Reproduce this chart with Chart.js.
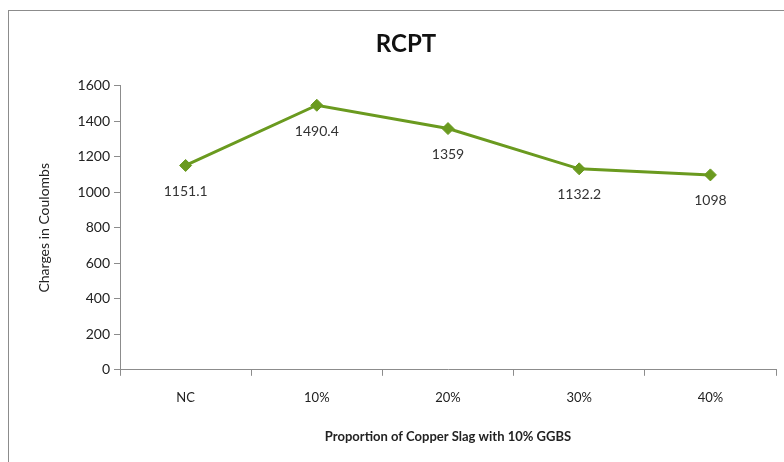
<!DOCTYPE html>
<html>
<head>
<meta charset="utf-8">
<script src="https://cdn.jsdelivr.net/npm/chart.js@4"></script>
<style>
  html, body { margin: 0; padding: 0; background: #fff; }
  #wrap { position: relative; width: 784px; height: 462px; }
</style>
</head>
<body>
<div id="wrap"><canvas id="myChart" width="784" height="462"></canvas></div>
<script>
const categories = ["NC", "10%", "20%", "30%", "40%"];
const rcpt = [1151.1, 1490.4, 1359, 1132.2, 1098];
const valueLabels = ["1151.1", "1490.4", "1359", "1132.2", "1098"];

const FONT = "Lato, 'Open Sans', sans-serif";

// outer frame, like the chart border in the original
const frame = {
  id: "frame",
  beforeDraw(chart) {
    const c = chart.ctx;
    c.save();
    c.fillStyle = "#fff";
    c.fillRect(0, 0, chart.width, chart.height);
    c.strokeStyle = "#8c8c8c";
    c.lineWidth = 1;
    c.strokeRect(8.5, 10.5, 820, 500);
    c.restore();
  },
};

// value labels under each point (no datalabels plugin available offline)
const pointLabels = {
  id: "pointLabels",
  afterDatasetsDraw(chart) {
    const c = chart.ctx;
    const meta = chart.getDatasetMeta(0);
    c.save();
    c.fillStyle = "#333";
    c.font = "14px " + FONT;
    c.textAlign = "center";
    c.textBaseline = "middle";
    meta.data.forEach((pt, i) => {
      c.fillText(valueLabels[i], pt.x, pt.y + 26);
    });
    c.restore();
  },
};

const ctx = document.getElementById("myChart");

new Chart(ctx, {
  type: "line",
  data: {
    labels: categories,
    datasets: [
      {
        label: "RCPT",
        data: rcpt,
        borderColor: "#6a9a1f",
        borderWidth: 3,
        tension: 0,
        pointStyle: "rectRot",
        pointRadius: 6,
        pointBackgroundColor: "#6a9a1f",
        pointBorderColor: "#6a9a1f",
        pointBorderWidth: 1,
      },
    ],
  },
  options: {
    responsive: false,
    animation: false,
    layout: {
      padding: { left: 36, right: 8, top: 0, bottom: 17 },
    },
    scales: {
      y: {
        min: 0,
        max: 1600,
        ticks: {
          stepSize: 200,
          color: "#222",
          font: { size: 14, family: FONT },
          padding: 4,
          callback: (v) => String(v),
        },
        grid: {
          drawOnChartArea: false,
          color: "#8c8c8c",
          tickLength: 6,
        },
        border: { color: "#8c8c8c", width: 1 },
        title: {
          display: true,
          text: "Charges in Coulombs",
          color: "#222",
          font: { size: 14, family: FONT },
          padding: { top: 0, bottom: 4 },
        },
        afterFit(scale) {
          scale.width = 84;
        },
      },
      x: {
        offset: true,
        ticks: {
          color: "#222",
          font: { size: 13, family: FONT },
          padding: 14,
        },
        grid: {
          offset: true,
          drawOnChartArea: false,
          color: "#8c8c8c",
          tickLength: 6,
        },
        border: { color: "#8c8c8c", width: 1 },
        title: {
          display: true,
          text: "Proportion of Copper Slag with 10% GGBS",
          color: "#222",
          font: { size: 13, family: FONT, weight: 700 },
          padding: { top: 10, bottom: 0 },
        },
      },
    },
    plugins: {
      legend: { display: false },
      tooltip: { enabled: false },
      title: {
        display: true,
        text: "RCPT",
        color: "#111",
        font: { size: 24, family: FONT, weight: 700 },
        padding: { top: 30, bottom: 27 },
      },
    },
  },
  plugins: [frame, pointLabels],
});
</script>
</body>
</html>
